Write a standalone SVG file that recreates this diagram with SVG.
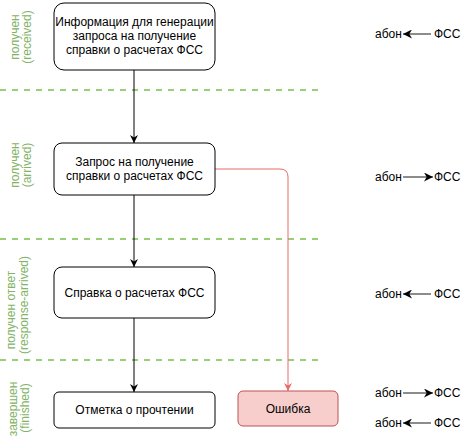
<svg xmlns="http://www.w3.org/2000/svg" width="475" height="440" viewBox="0 0 475 440">
<style>
.box{fill:#fff;stroke:#000;stroke-width:1}
.err{fill:#f8cecc;stroke:#b85450;stroke-width:1}
.t{font-family:"Liberation Sans",Arial,sans-serif;font-size:12px;fill:#000;text-anchor:middle}
.lane{font-family:"Liberation Sans",Arial,sans-serif;font-size:12px;fill:#82b366;text-anchor:middle}
.sep{stroke:#97d077;stroke-width:2;stroke-dasharray:6 6;fill:none}
.c{stroke:#000;stroke-width:1;fill:none}
.cr{stroke:#ea6b66;stroke-width:1;fill:none}
.leg{stroke:#666;stroke-width:1.5;fill:none}
.lt{font-family:"Liberation Sans",Arial,sans-serif;font-size:12px;fill:#000}
</style>
<defs>
<marker id="ab" viewBox="0 0 10 10" refX="10" refY="5" markerWidth="8" markerHeight="8" markerUnits="userSpaceOnUse" orient="auto"><path d="M0,0 L10,5 L0,10 L3,5 Z" fill="#000"/></marker>
<marker id="ar" viewBox="0 0 10 10" refX="10" refY="5" markerWidth="8" markerHeight="8" markerUnits="userSpaceOnUse" orient="auto"><path d="M0,0 L10,5 L0,10 L3,5 Z" fill="#ea6b66"/></marker>
<marker id="al" viewBox="0 0 10 10" refX="10" refY="5" markerWidth="9" markerHeight="9" markerUnits="userSpaceOnUse" orient="auto"><path d="M0,0 L10,5 L0,10 L3,5 Z" fill="#000"/></marker>
</defs>

<g id="separators">
<line class="sep" x1="0" y1="90" x2="320" y2="90"/>
<line class="sep" x1="0" y1="239" x2="320" y2="239"/>
<line class="sep" x1="0" y1="360" x2="320" y2="360"/>
</g>

<g id="lanes">
<text class="lane" transform="translate(19,37) rotate(-90)">получен</text>
<text class="lane" transform="translate(31,37) rotate(-90)">(received)</text>
<text class="lane" transform="translate(19,165) rotate(-90)">получен</text>
<text class="lane" transform="translate(31,165) rotate(-90)">(arrived)</text>
<text class="lane" transform="translate(15,310) rotate(-90)">получен ответ</text>
<text class="lane" transform="translate(28,305) rotate(-90)">(response-arrived)</text>
<text class="lane" transform="translate(17,409) rotate(-90)">завершен</text>
<text class="lane" transform="translate(29,408) rotate(-90)">(finished)</text>
</g>

<g id="connectors">
<line class="c" x1="134" y1="70" x2="134" y2="143" marker-end="url(#ab)"/>
<line class="c" x1="134" y1="195" x2="134" y2="267" marker-end="url(#ab)"/>
<line class="c" x1="134" y1="318" x2="134" y2="392" marker-end="url(#ab)"/>
<path class="cr" d="M215,169 H280 Q288,169 288,177 V391" marker-end="url(#ar)"/>
</g>

<g id="n1">
<rect class="box" x="54" y="3" width="161" height="67" rx="10"/>
<text class="t" x="134.5" y="26">Информация для генерации</text>
<text class="t" x="134.5" y="40">запроса на получение</text>
<text class="t" x="134.5" y="54">справки о расчетах ФСС</text>
</g>
<g id="n2">
<rect class="box" x="54" y="143" width="161" height="52" rx="8"/>
<text class="t" x="134.5" y="166">Запрос на получение</text>
<text class="t" x="134.5" y="180">справки о расчетах ФСС</text>
</g>
<g id="n3">
<rect class="box" x="54" y="267" width="161" height="51" rx="8"/>
<text class="t" x="134.5" y="297">Справка о расчетах ФСС</text>
</g>
<g id="n4">
<rect class="box" x="54" y="392" width="161" height="36" rx="5"/>
<text class="t" x="134.5" y="414">Отметка о прочтении</text>
</g>
<g id="n5">
<rect class="err" x="238" y="391" width="100" height="35" rx="5"/>
<text class="t" x="288" y="413">Ошибка</text>
</g>

<g id="legend">
<text class="lt" x="375" y="38">абон</text>
<line class="leg" x1="431" y1="34" x2="403" y2="34" marker-end="url(#al)"/>
<text class="lt" x="434" y="38">ФСС</text>

<text class="lt" x="375" y="181">абон</text>
<line class="leg" x1="403" y1="177" x2="433" y2="177" marker-end="url(#al)"/>
<text class="lt" x="434" y="181">ФСС</text>

<text class="lt" x="375" y="298">абон</text>
<line class="leg" x1="431" y1="294" x2="403" y2="294" marker-end="url(#al)"/>
<text class="lt" x="434" y="298">ФСС</text>

<text class="lt" x="375" y="397">абон</text>
<line class="leg" x1="403" y1="393" x2="433" y2="393" marker-end="url(#al)"/>
<text class="lt" x="434" y="397">ФСС</text>

<text class="lt" x="375" y="427">абон</text>
<line class="leg" x1="431" y1="423" x2="403" y2="423" marker-end="url(#al)"/>
<text class="lt" x="434" y="427">ФСС</text>
</g>
</svg>
